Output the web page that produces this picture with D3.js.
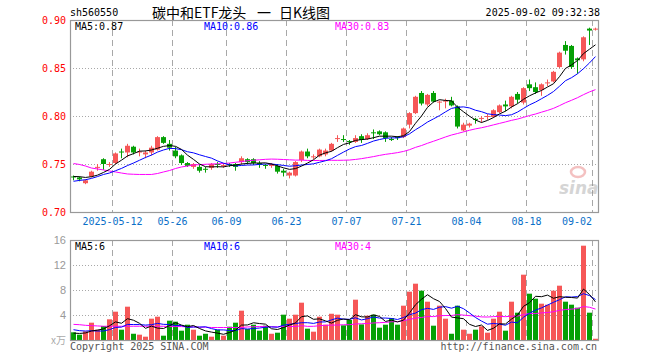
<!DOCTYPE html>
<html><head><meta charset="utf-8">
<script src="https://cdn.jsdelivr.net/npm/d3@7/dist/d3.min.js"></script>
<style>
html,body{margin:0;padding:0;background:#fff;}
svg{display:block;}
text{font-family:"DejaVu Sans Mono","Liberation Mono",monospace;font-size:10px;}
</style></head><body>
<svg id="c" width="660" height="360"></svg>
<script>
// ---------- data ----------
const dates = ["04-28","04-29","04-30","05-06","05-07","05-08","05-09",
"05-12","05-13","05-14","05-15","05-16","05-19","05-20","05-21","05-22","05-23",
"05-26","05-27","05-28","05-29","05-30","06-03","06-04","06-05","06-06",
"06-09","06-10","06-11","06-12","06-13","06-16","06-17","06-18","06-19","06-20",
"06-23","06-24","06-25","06-26","06-27","06-30","07-01","07-02","07-03","07-04",
"07-07","07-08","07-09","07-10","07-11","07-14","07-15","07-16","07-17","07-18",
"07-21","07-22","07-23","07-24","07-25","07-28","07-29","07-30","07-31","08-01",
"08-04","08-05","08-06","08-07","08-08","08-11","08-12","08-13","08-14","08-15",
"08-18","08-19","08-20","08-21","08-22","08-25","08-26","08-27","08-28","08-29",
"09-01","09-02"].map(d => "2025-" + d);

const open  = [.737,.736,.730,.737,.746,.755,.749,.751,.763,.762,.768,.762,.760,.762,.765,.778,.771,.764,.759,.751,.747,.747,.745,.746,.750,.748,.750,.750,.752,.755,.755,.751,.749,.748,.748,.743,.738,.738,.754,.763,.757,.758,.760,.764,.776,.776,.774,.773,.779,.776,.783,.784,.783,.776,.778,.778,.791,.803,.824,.812,.824,.814,.815,.816,.810,.785,.790,.797,.797,.799,.799,.804,.812,.810,.823,.814,.833,.830,.827,.834,.836,.851,.874,.873,.860,.859,.891,.890];
const high  = [.738,.737,.734,.743,.750,.756,.752,.762,.766,.771,.769,.766,.764,.769,.779,.779,.775,.768,.760,.752,.751,.749,.747,.751,.752,.751,.751,.751,.758,.756,.756,.753,.750,.751,.750,.745,.742,.753,.764,.766,.760,.766,.766,.772,.780,.780,.775,.780,.781,.782,.786,.785,.784,.778,.779,.788,.804,.821,.826,.823,.826,.816,.818,.820,.811,.793,.793,.798,.800,.802,.807,.812,.816,.821,.825,.830,.838,.835,.834,.838,.847,.867,.878,.874,.861,.883,.892,.892];
const low   = [.733,.732,.729,.736,.743,.744,.747,.750,.756,.757,.760,.758,.756,.759,.764,.771,.764,.756,.749,.747,.745,.741,.741,.744,.746,.746,.747,.743,.750,.750,.749,.746,.745,.746,.740,.737,.735,.737,.752,.756,.755,.757,.758,.763,.773,.773,.770,.772,.772,.775,.776,.780,.773,.774,.775,.777,.787,.802,.811,.810,.814,.806,.808,.810,.787,.784,.788,.792,.793,.796,.798,.803,.805,.808,.813,.812,.826,.823,.821,.831,.835,.850,.864,.849,.844,.857,.874,.889];
const close = [.736,.734,.733,.742,.747,.750,.750,.761,.762,.769,.762,.763,.762,.767,.778,.772,.767,.758,.751,.748,.750,.743,.744,.750,.749,.749,.749,.747,.756,.752,.751,.749,.748,.750,.742,.741,.741,.752,.763,.758,.758,.765,.764,.771,.777,.775,.773,.777,.775,.780,.782,.781,.777,.775,.777,.787,.803,.820,.813,.822,.815,.815,.816,.811,.789,.791,.792,.796,.798,.800,.806,.811,.810,.820,.817,.829,.829,.825,.833,.835,.846,.866,.868,.851,.858,.882,.889,.891];
const volume = [1.23,0.85,1.39,2.77,1.65,2.24,3.31,4.53,1.65,5.33,1.00,0.85,0.53,3.41,3.73,0.69,3.09,2.93,1.49,2.45,1.65,0.69,1.00,0.53,1.65,0.69,2.13,2.77,4.69,1.76,2.45,1.49,2.29,1.00,1.17,4.05,3.41,4.05,5.97,1.81,1.33,3.73,2.45,4.20,4.05,2.35,3.20,6.45,2.50,3.89,4.05,1.97,2.45,3.52,2.45,5.49,7.73,9.01,7.89,6.13,2.29,5.49,3.41,1.00,5.49,1.65,1.00,1.65,2.19,1.17,3.41,4.53,1.49,6.13,4.37,10.45,7.41,6.61,5.81,5.65,7.89,8.69,6.13,5.65,5.17,15.09,4.37,0.20];

// sessions just before the window (estimated from where the MA5/MA10 lines start)
const priorCloses  = [0.725,0.726,0.728,0.728,0.728,0.735,0.737,0.738,0.739];
const priorVolumes = [2.4,2.0,2.3,2.1,2.2,1.1,1.0,1.2,0.97];
// MA30 values for the first 29 sessions (need off-chart history)
const ma30Early    = [.7505,.7495,.7479,.7458,.7448,.7438,.7427,.7417,.7406,.7396,.7393,.7391,.7391,.7391,.7401,.7417,.7432,.7453,.7469,.7479,.7490,.7493,.7497,.7500,.7502,.7505,.7510,.7518,.7525];
const volMa30Early = [2.5,2.45,2.35,2.3,2.25,2.2,2.2,2.2,2.2,2.2,2.2,2.2,2.2,2.2,2.2,2.2,2.15,2.15,2.15,2.1,2.1,2.05,2.05,2.0,2.0,2.0,2.0,2.0,2.0];

const tickDates  = ["2025-05-12","2025-05-26","2025-06-09","2025-06-23","2025-07-07","2025-07-21","2025-08-04","2025-08-18","2025-09-02"];
const tickLabels = ["2025-05-12","05-26","06-09","06-23","07-07","07-21","08-04","08-18","09-02"];
const priceTicks = [0.70,0.75,0.80,0.85,0.90];
const volTicks   = [4,8,12,16];
const code = "sh560550";
const title = ["碳中和ETF龙头","一","日K线图"];
const stamp = "2025-09-02 09:32:38";

// ---------- helpers ----------
function movingAvg(series, prior, n, early) {
  const all = prior.concat(series);
  return series.map((_, i) => {
    if (early && i < n - 1) return early[i];
    const idx = prior.length + i;
    if (idx - n + 1 < 0) return null;
    return d3.mean(all.slice(idx - n + 1, idx + 1));
  });
}
const ma5 = movingAvg(close, priorCloses, 5);
const ma10 = movingAvg(close, priorCloses, 10);
const ma30 = movingAvg(close, [], 30, ma30Early);
const vma5 = movingAvg(volume, priorVolumes, 5);
const vma10 = movingAvg(volume, priorVolumes, 10);
const vma30 = movingAvg(volume, [], 30, volMa30Early);

// ---------- layout ----------
const svg = d3.select("#c");
const L = 70, R = 598;
const PT = 20, PB = 212, VT = 240, VB = 340;
const RED = "#f65757", GREEN = "#05a005", GRID = "#a8a8a8", FRAME = "#999";

const x = d3.scaleBand().domain(dates).range([L, R]).padding(0);
const y = d3.scaleLinear().domain([0.70, 0.90]).range([PB, PT]);
const yv = d3.scaleLinear().domain([0, 16]).range([VB, VT]);
const cx = d => x(d) + 3.5;
const px = v => Math.round(v) + 0.5;

svg.append("defs").selectAll("clipPath").data([["cp",PT,PB],["cv",VT,VB]]).join("clipPath")
  .attr("id", d => d[0]).append("rect")
  .attr("x", L).attr("y", d => d[1]).attr("width", R - L).attr("height", d => d[2] - d[1]);

// header
svg.append("text").attr("x", 70).attr("y", 16).attr("fill", "#000").text(code);
const tt = svg.append("text").attr("y", 18).attr("fill", "#000")
  .style("font-family", "'Noto Sans CJK SC',sans-serif").style("font-size", "14px");
[152, 257, 279].forEach((xx, k) => tt.append("tspan").attr("x", xx).text(title[k]));
svg.append("text").attr("x", 600).attr("y", 16).attr("text-anchor", "end").attr("fill", "#000").text(stamp);

// grids
function hGrid(vals, sc) {
  svg.append("g").selectAll("line").data(vals).join("line")
    .attr("x1", L).attr("x2", R).attr("y1", d => px(sc(d))).attr("y2", d => px(sc(d)))
    .attr("stroke", GRID).attr("stroke-dasharray", "1,2");
}
hGrid([0.75, 0.80, 0.85], y);
hGrid([4, 8, 12], yv);
[[PT, PB], [VT, VB]].forEach(([t, b]) => {
  svg.append("g").selectAll("line").data(tickDates).join("line")
    .attr("x1", d => x(d) + 0.5).attr("x2", d => x(d) + 0.5).attr("y1", t).attr("y2", b)
    .attr("stroke", GRID).attr("stroke-dasharray", "6,4");
});

// axes labels
svg.append("g").selectAll("text").data(priceTicks).join("text")
  .attr("x", 66).attr("y", d => y(d)).attr("dy", "0.35em").attr("text-anchor", "end")
  .attr("fill", "#f00").text(d => d.toFixed(2));
svg.append("g").selectAll("text").data(volTicks).join("text")
  .attr("x", 66).attr("y", d => yv(d)).attr("dy", "0.35em").attr("text-anchor", "end")
  .attr("fill", "#999").style("font-family", "'Liberation Sans',Arial,sans-serif").style("font-size", "11px").text(d => d);
svg.append("text").attr("x", 66).attr("y", 344).attr("text-anchor", "end").attr("fill", "#aaa")
  .style("font-family", "'Noto Sans CJK SC',sans-serif").style("font-size", "10px").text("x万");
svg.append("g").selectAll("text").data(tickDates).join("text")
  .attr("x", (d, i) => i === tickDates.length - 1 ? x(d) : x(d) + 0.5)
  .attr("y", 225).attr("text-anchor", (d, i) => i === tickDates.length - 1 ? "end" : "middle")
  .attr("fill", "#0a6fc8").text((d, i) => tickLabels[i]);

// watermark
const wm = svg.append("g").attr("opacity", 0.35);
wm.append("ellipse").attr("cx", 578).attr("cy", 172).attr("rx", 7).attr("ry", 5).attr("fill", "none").attr("stroke", "#e05050").attr("stroke-width", 2.5);
wm.append("text").attr("x", 559).attr("y", 194).attr("fill", "#888")
  .style("font-family", "'DejaVu Sans',sans-serif").style("font-size", "17px").style("font-weight", "bold").style("font-style", "italic").text("sina");

// candles
const isUp = i => close[i] >= open[i];
const cg = svg.append("g").attr("clip-path", "url(#cp)");
cg.selectAll("line").data(dates).join("line")
  .attr("x1", cx).attr("x2", cx)
  .attr("y1", (d, i) => y(high[i])).attr("y2", (d, i) => y(low[i]))
  .attr("stroke", (d, i) => isUp(i) ? RED : GREEN);
cg.selectAll("rect").data(dates).join("rect")
  .attr("x", d => x(d) + 1).attr("width", x.bandwidth() - 1)
  .attr("y", (d, i) => Math.min(y(open[i]), y(close[i])))
  .attr("height", (d, i) => Math.max(1, Math.abs(y(open[i]) - y(close[i]))))
  .attr("fill", (d, i) => isUp(i) ? RED : GREEN);

// volume bars
svg.append("g").attr("clip-path", "url(#cv)").selectAll("rect").data(dates).join("rect")
  .attr("x", d => x(d) + 1).attr("width", x.bandwidth() - 1)
  .attr("y", (d, i) => yv(volume[i])).attr("height", (d, i) => VB - yv(volume[i]))
  .attr("fill", (d, i) => isUp(i) ? RED : GREEN);

// MA lines
function maLine(vals, sc, color, clip) {
  const line = d3.line().defined(d => d[1] != null).x(d => cx(d[0])).y(d => sc(d[1]));
  svg.append("path").datum(dates.map((d, i) => [d, vals[i]]))
    .attr("clip-path", `url(#${clip})`)
    .attr("d", line).attr("fill", "none").attr("stroke", color).attr("stroke-width", 1);
}
maLine(ma30, y, "#ff00ff", "cp"); maLine(ma10, y, "#0000ff", "cp"); maLine(ma5, y, "#000", "cp");
maLine(vma30, yv, "#ff00ff", "cv"); maLine(vma10, yv, "#0000ff", "cv"); maLine(vma5, yv, "#000", "cv");

// frames
[[PT, PB], [VT, VB]].forEach(([t, b]) => {
  svg.append("rect").attr("x", L + 0.5).attr("y", t + 0.5).attr("width", R - L).attr("height", b - t)
    .attr("fill", "none").attr("stroke", FRAME).attr("stroke-width", 1.2);
});

// MA legends
const n = dates.length - 1;
const leg = (yy, items) => items.forEach(([xx, col, txt]) =>
  svg.append("text").attr("x", xx).attr("y", yy).attr("fill", col).text(txt));
leg(30, [[75, "#000", "MA5:" + ma5[n].toFixed(2)], [204, "#0000ff", "MA10:" + ma10[n].toFixed(2)], [335, "#ff00ff", "MA30:" + ma30[n].toFixed(2)]]);
leg(250, [[75, "#000", "MA5:" + Math.floor(vma5[n])], [204, "#0000ff", "MA10:" + Math.floor(vma10[n])], [335, "#ff00ff", "MA30:" + Math.floor(vma30[n])]]);

// footer
svg.append("text").attr("x", 70).attr("y", 350).attr("fill", "#555").text("Copyright 2025 SINA.COM");
svg.append("text").attr("x", 597).attr("y", 350).attr("text-anchor", "end").attr("fill", "#555").text("http://finance.sina.com.cn");
</script></body></html>
